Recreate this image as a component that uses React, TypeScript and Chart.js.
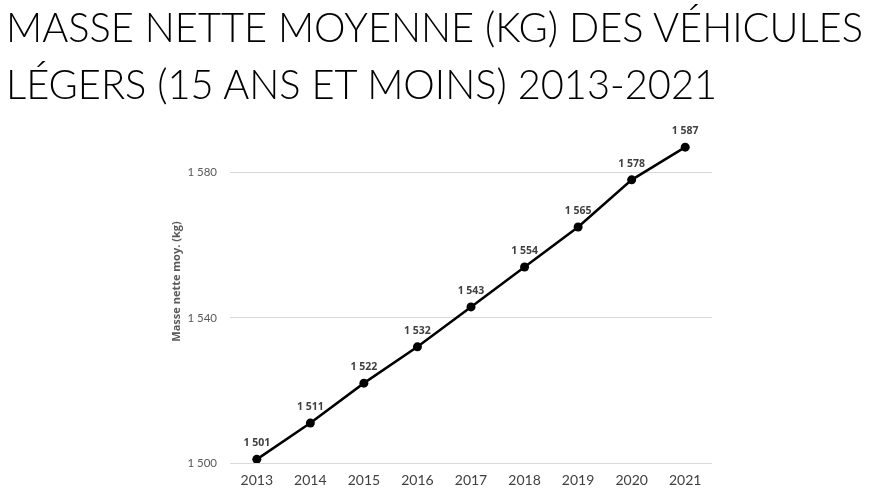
import { useEffect, useLayoutEffect, useRef } from "react"
import { Chart, registerables } from "chart.js"

Chart.register(...registerables)

const titleLines = ["MASSE NETTE MOYENNE (KG) DES VÉHICULES", "LÉGERS (15 ANS ET MOINS) 2013-2021"]
const years = ["2013", "2014", "2015", "2016", "2017", "2018", "2019", "2020", "2021"]
const masse = [1501, 1511, 1522, 1532, 1543, 1554, 1565, 1578, 1587]
const yTicks = [1500, 1540, 1580]
const yTitle = "Masse nette moy. (kg)"

const FONT = "Lato, 'Open Sans', sans-serif"
const BOLD_FONT = "'Open Sans', 'Noto Sans', sans-serif"

// 1501 -> "1 501"
function fmt(v: number) {
  return String(v).replace(/\B(?=(\d{3})+(?!\d))/g, " ")
}

const dataLabels = {
  id: "dataLabels",
  afterDatasetsDraw(chart: any) {
    const ctx = chart.ctx
    const meta = chart.getDatasetMeta(0)
    ctx.save()
    ctx.font = "bold 10.5px " + BOLD_FONT
    ctx.fillStyle = "#404040"
    ctx.textAlign = "center"
    ctx.textBaseline = "alphabetic"
    meta.data.forEach((pt: any, i: number) => {
      ctx.fillText(fmt(masse[i]), pt.x, pt.y - 13)
    })
    ctx.restore()
  },
}

export default function App() {
  const chartRef = useRef<HTMLCanvasElement>(null)
  const chartInstance = useRef<Chart | null>(null)
  const firstLine = useRef<HTMLSpanElement>(null)
  const lineRefs = useRef<(HTMLSpanElement | null)[]>([])

  // squeeze the title so the first line spans like the reference
  useLayoutEffect(() => {
    document.body.style.margin = "0"
    if (!firstLine.current) return
    const w = firstLine.current.getBoundingClientRect().width
    const k = 857 / w
    lineRefs.current.forEach((el) => {
      if (el) el.style.transform = `scaleX(${k})`
    })
  }, [])

  useEffect(() => {
    if (!chartRef.current) return
    if (chartInstance.current) chartInstance.current.destroy()
    const ctx = chartRef.current.getContext("2d")
    if (!ctx) return

    chartInstance.current = new Chart(ctx, {
      type: "line",
      data: {
        labels: years,
        datasets: [
          {
            data: masse,
            borderColor: "#000000",
            backgroundColor: "#000000",
            borderWidth: 2.5,
            pointRadius: 4.5,
            pointBackgroundColor: "#000000",
            pointBorderWidth: 0,
            tension: 0,
            fill: false,
          },
        ],
      },
      options: {
        animation: false,
        responsive: false,
        maintainAspectRatio: false,
        layout: { padding: { left: 166, right: 157, top: 100, bottom: 4 } },
        plugins: {
          legend: { display: false },
          tooltip: { enabled: false },
          title: { display: false },
        },
        scales: {
          x: {
            offset: true,
            grid: { display: false, drawTicks: false },
            border: { display: false },
            ticks: { color: "#404040", font: { family: FONT, size: 14 }, padding: 9.5 },
            afterFit: (s: any) => {
              s.height = 22
            },
          },
          y: {
            min: 1500,
            max: 1600,
            afterBuildTicks: (s: any) => {
              s.ticks = yTicks.map((v) => ({ value: v }))
            },
            grid: { color: "#d9d9d9", lineWidth: 1, drawTicks: false },
            border: { display: false },
            ticks: {
              color: "#595959",
              font: { family: FONT, size: 11.5 },
              padding: 13,
              callback: (v: any) => fmt(Number(v)),
            },
            title: {
              display: true,
              text: yTitle,
              color: "#595959",
              font: { family: BOLD_FONT, size: 11, weight: "bold" },
              padding: { top: 4, bottom: 0 },
            },
            afterFit: (s: any) => {
              s.width = 64
            },
          },
        },
      },
      plugins: [dataLabels],
    })

    return () => {
      if (chartInstance.current) {
        chartInstance.current.destroy()
        chartInstance.current = null
      }
    }
  }, [])

  return (
    <div style={{ position: "relative", width: 869, height: 489, background: "#ffffff", overflow: "hidden" }}>
      <canvas ref={chartRef} width={869} height={489} style={{ position: "absolute", left: 0, top: 0 }}></canvas>
      <div
        style={{
          position: "absolute",
          left: 6,
          top: -2,
          fontFamily: FONT,
          fontWeight: 300,
          fontSize: 42,
          lineHeight: "57px",
          color: "#000000",
          whiteSpace: "nowrap",
        }}
      >
        {titleLines.map((t, i) => (
          <div key={i}>
            <span
              ref={(el) => {
                lineRefs.current[i] = el
                if (i === 0) (firstLine as any).current = el
              }}
              style={{ display: "inline-block", transformOrigin: "left center" }}
            >
              {t}
            </span>
          </div>
        ))}
      </div>
    </div>
  )
}
